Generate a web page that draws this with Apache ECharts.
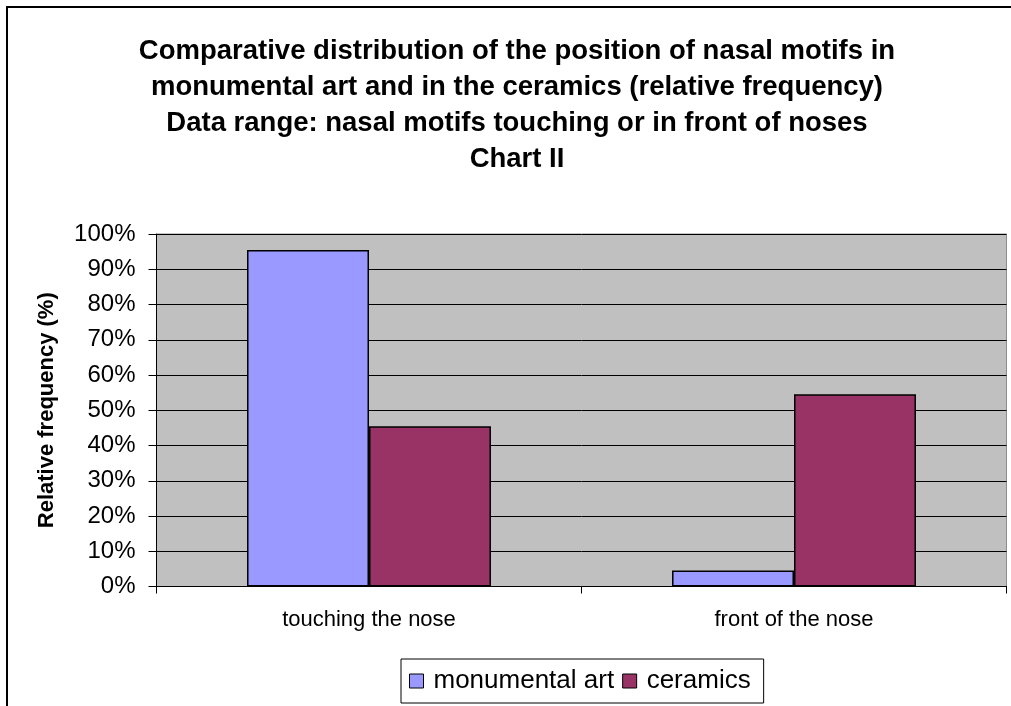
<!DOCTYPE html>
<html>
<head>
<meta charset="utf-8">
<title>Nasal motifs – Chart II</title>
<script src="https://cdn.jsdelivr.net/npm/echarts@6/dist/echarts.min.js"></script>
<style>
  html, body { margin: 0; padding: 0; background: #ffffff; }
  #chart { width: 1011px; height: 706px; }
</style>
</head>
<body>
<div id="chart"></div>
<script>
// Position categories of the nasal motifs
const categories = ['touching the nose', 'front of the nose'];

// Relative frequency (%) per corpus
const monumentalArt = [95.45, 4.55];
const ceramics = [45.45, 54.55];

// Series names shown in the legend
const seriesNames = ['monumental art', 'ceramics'];

// Y-axis ticks: 0% … 100% in steps of 10
const yMin = 0;
const yMax = 100;
const yStep = 10;

const titleLines = [
  'Comparative distribution of the position of nasal motifs in',
  'monumental art and in the ceramics (relative frequency)',
  'Data range: nasal motifs touching or in front of noses',
  'Chart II'
];

const FONT = "'Liberation Sans', Arial, sans-serif";

const chart = echarts.init(document.getElementById('chart'), null, { renderer: 'canvas' });

chart.setOption({
  animation: false,
  backgroundColor: '#ffffff',
  textStyle: { fontFamily: FONT },
  title: {
    text: titleLines.join('\n'),
    left: 512,
    top: 28,
    textAlign: 'center',
    textStyle: {
      fontFamily: FONT,
      fontSize: 27.5,
      fontWeight: 'bold',
      color: '#000000',
      lineHeight: 36,
      align: 'center'
    }
  },
  graphic: [{
    type: 'rect',
    shape: { x: 7, y: 7, width: 1100, height: 800 },
    style: { fill: 'none', stroke: '#000000', lineWidth: 2 },
    silent: true,
    z: 100
  }],
  legend: {
    data: seriesNames,
    left: 401,
    top: 659,
    orient: 'horizontal',
    itemWidth: 14,
    itemHeight: 14,
    itemGap: 8,
    padding: [9, 13, 9, 8],
    borderColor: '#000000',
    borderWidth: 1,
    icon: 'rect',
    itemStyle: { borderColor: '#000000', borderWidth: 1 },
    textStyle: { fontFamily: FONT, fontSize: 26, color: '#000000', padding: [0, 0, 0, 5] }
  },
  grid: {
    left: 156.5,
    right: 4.5,
    top: 234,
    bottom: 119.5,
    show: true,
    backgroundColor: '#c0c0c0',
    borderColor: '#8c8c8c',
    borderWidth: 1
  },
  xAxis: {
    type: 'category',
    data: categories,
    axisLine: { show: true, lineStyle: { color: '#000000', width: 1 } },
    axisTick: { show: true, alignWithLabel: false, length: 7, lineStyle: { color: '#000000' } },
    axisLabel: { fontFamily: FONT, fontSize: 22, color: '#000000', margin: 22 },
    splitLine: { show: false }
  },
  yAxis: {
    type: 'value',
    min: yMin,
    max: yMax,
    interval: yStep,
    name: 'Relative frequency (%)',
    nameLocation: 'middle',
    nameRotate: 90,
    nameGap: 99,
    nameTextStyle: { fontFamily: FONT, fontSize: 22, fontWeight: 'bold', color: '#000000' },
    axisLine: { show: true, lineStyle: { color: '#000000', width: 1 } },
    axisTick: { show: true, length: 8, lineStyle: { color: '#000000' } },
    axisLabel: { fontFamily: FONT, fontSize: 24, color: '#000000', margin: 21, formatter: '{value}%' },
    splitLine: { show: true, lineStyle: { color: '#000000', width: 1 } }
  },
  series: [
    {
      name: seriesNames[0],
      type: 'bar',
      data: monumentalArt,
      barGap: '0%',
      barCategoryGap: '42.6%',
      itemStyle: { color: '#9999ff', borderColor: '#000000', borderWidth: 1.5 }
    },
    {
      name: seriesNames[1],
      type: 'bar',
      data: ceramics,
      barGap: '0%',
      barCategoryGap: '42.6%',
      itemStyle: { color: '#993366', borderColor: '#000000', borderWidth: 1.5 }
    }
  ]
});
</script>
</body>
</html>
